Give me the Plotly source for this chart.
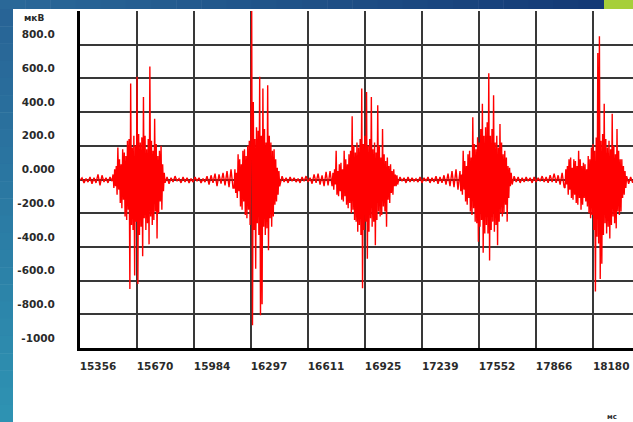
import plotly.graph_objects as go

# ---------------- data ----------------
x_tickvals = [15356, 15670, 15984, 16297, 16611, 16925, 17239, 17552, 17866, 18180]
x_ticktext = [str(v) for v in x_tickvals]
y_tickvals = [800, 600, 400, 200, 0, -200, -400, -600, -800, -1000]
y_ticktext = ["800.0", "600.0", "400.0", "200.0", "0.000",
              "-200.0", "-400.0", "-600.0", "-800.0", "-1000"]

dt_burst = 4.4   # ms between samples inside bursts
dt_base = 11.0   # ms between samples in quiet parts

base0_start = 15356
base0 = [-5, 10, -20, 5, -15, 15, -25, 10, -20, 30, -35, 25, -15, 10, -20, 15, -10]

burst1_start = 15538
burst1 = [30, -50, 60, -40, 80, -90, 190, -60, 120, -140, 90, -170, 180, -120, 160, -220,
          140, -240, 230, -180, 240, -650, 570, -270, 190, -300, 260, -570, 200, -250, 610, -620,
          270, -330, 220, -280, 250, -455, 490, -230, 260, -300, 180, -260, 240, -385, 670, -220,
          230, -270, 170, -240, 360, -190, 210, -350, 140, -200, 170, -130, 200, -180, 90, -70, 40]

base1_start = 15824
base1 = [-20, 15, -25, 10, -15, 20, -10, 5, -20, 15, -15, 10, -20, 5, -15, 15, -10, 10,
         -20, 5, -15, 20, -30, 25, -20, 35, -40, 30, -25, 40, -35, 50, -45, 60, -50]

burst2_start = 16204
burst2 = [-50, 60, -80, 40, -110, 150, -70, 120, -160, 90, -180, 170, -130, 180, -210, 140,
          -230, 200, -180, 230, -270, 280, 1000, -865, 460, -300, 240, -530, 310, -260, 290, -330,
          610, -805, 260, -740, 540, -280, 300, -330, 220, -290, 560, -420, 260, -230, 220, -280,
          170, -220, 180, -150, 120, -130, 70, -90, 50, -40]

base2_start = 16457
base2 = [-30, 20, -15, 10, -20, 15, -10, 10, -15, 5, -20, 15, -10, 20, -15, 10, -25, 30,
         -20, 35, -30, 25, -40, 45, -35, 50, -40]

burst3_start = 16748
burst3 = [40, -60, 60, -30, 170, -90, 50, -100, 90, -70, 100, -120, 60, -130, 170, -100,
          120, -150, 90, -170, 150, -140, 170, -200, 375, -180, 200, -240, 160, -250, 220, -310,
          190, -270, 240, -330, 540, -645, 210, -300, 260, -250, 520, -470, 200, -310, 240, -230,
          490, -280, 180, -250, 220, -390, 160, -240, 440, -190, 200, -220, 130, -210, 300, -160,
          150, -190, 110, -280, 130, -120, 80, -140, 90, -80, 50, -90, 60, -40, 30, -40, 25, -30]

base3_start = 17106
base3 = [-20, 15, -10, 10, -20, 15, -15, 10, -10, 5, -15, 15, -20, 10, -10, 15, -20, 10,
         -15, 20, -25, 15, -20, 25, -30, 35, -40, 50, -45, 60, -60]

burst4_start = 17447
burst4 = [50, -70, 30, -90, 170, -60, 110, -130, 80, -150, 150, -110, 170, -190, 130, -210,
          370, -170, 210, -250, 180, -260, 250, -370, 220, -280, 300, -240, 450, -435, 260, -320,
          310, -270, 340, -320, 630, -480, 260, -300, 300, -250, 500, -310, 220, -270, 260, -390,
          190, -250, 330, -200, 220, -220, 150, -200, 170, -150, 130, -250, 80, -110, 70, -40, 40]

base4_start = 17734
base4 = [-30, 20, -15, 15, -20, 10, -15, 15, -10, 10, -20, 15, -15, 10, -10, 20, -15, 15,
         -20, 25, -15, 35, -20, 25, -30, 40, -45]

burst5_start = 18025
burst5 = [-50, 60, -30, 80, -90, 120, -60, 130, -110, 70, -120, 120, -90, 110, -140, 80,
          -150, 170, -110, 120, -180, 80, -150, 100, -110, 90, -130, 60, -160, 140, -200, 120,
          -230, 190, -210, 210, -300, 170, -665, 250, -340, 750, -380, 850, -590, 230, -500, 270,
          -330, 450, -260, 240, -320, 190, -280, 230, -350, 180, -270, 390, -220, 200, -260, 150,
          -290, 300, -190, 170, -210, 120, -190, 120, -110, 80, -90, 50, -50]

base5_start = 18364
base5 = [20, -25, 15, -20, 10]

segments = [
    (base0_start, dt_base, base0),
    (burst1_start, dt_burst, burst1),
    (base1_start, dt_base, base1),
    (burst2_start, dt_burst, burst2),
    (base2_start, dt_base, base2),
    (burst3_start, dt_burst, burst3),
    (base3_start, dt_base, base3),
    (burst4_start, dt_burst, burst4),
    (base4_start, dt_base, base4),
    (burst5_start, dt_burst, burst5),
    (base5_start, dt_base, base5),
]

t_ms = []
u_uv = []
for start, dt, vals in segments:
    t_ms.extend(start + i * dt for i in range(len(vals)))
    u_uv.extend(vals)

# ---------------- figure ----------------
W, H = 633, 422
L, R, T, B = 80, 0, 11, 74

fig = go.Figure()
fig.add_trace(go.Scatter(x=t_ms, y=u_uv, mode="lines",
                         line=dict(color="#ff0000", width=1.4), hoverinfo="skip",
                         showlegend=False))

tick_font = dict(family="DejaVu Sans", size=10.5, color="#2a2a2a", weight="bold")

fig.update_layout(
    width=W, height=H,
    margin=dict(l=L, r=R, t=T, b=B, pad=0),
    paper_bgcolor="white", plot_bgcolor="white",
    xaxis=dict(range=[15356, 18399], tickvals=x_tickvals, ticktext=x_ticktext,
               showgrid=True, gridcolor="#383838", gridwidth=1.5, zeroline=False,
               showline=True, linecolor="black", linewidth=3, ticks="",
               tickfont=tick_font, ticklabelshift=18, ticklabelstandoff=6),
    yaxis=dict(range=[-1000, 1000], tickvals=y_tickvals, ticktext=y_ticktext,
               showgrid=True, gridcolor="#383838", gridwidth=1.5, zeroline=False,
               showline=True, linecolor="black", linewidth=3, ticks="",
               tickfont=tick_font, ticklabelshift=-10, ticklabelstandoff=20),
)

# slide decoration: blue gradient strips on left and top, green block top-right
pw, ph = W - L - R, H - T - B
def px2x(px): return (px - L) / pw
def px2y(py): return (H - B - py) / ph

shapes = []
n = 24
def lerp(c1, c2, f):
    return "rgb(%d,%d,%d)" % tuple(round(a + (b - a) * f) for a, b in zip(c1, c2))
left_top, left_bot = (40, 100, 150), (46, 146, 178)
for k in range(n):
    y0 = 9 + (H - 9) * k / n
    y1 = 9 + (H - 9) * (k + 1) / n + 0.5
    shapes.append(dict(type="rect", xref="paper", yref="paper", layer="below",
                       x0=px2x(0), x1=px2x(13), y0=px2y(y1), y1=px2y(y0),
                       line=dict(width=0), fillcolor=lerp(left_top, left_bot, k / (n - 1))))
top_l, top_r = (42, 104, 152), (20, 58, 118)
for k in range(n):
    x0 = 604 * k / n
    x1 = 604 * (k + 1) / n + 0.5
    shapes.append(dict(type="rect", xref="paper", yref="paper", layer="below",
                       x0=px2x(x0), x1=px2x(x1), y0=px2y(9), y1=px2y(0),
                       line=dict(width=0), fillcolor=lerp(top_l, top_r, k / (n - 1))))
shapes.append(dict(type="rect", xref="paper", yref="paper", layer="below",
                   x0=px2x(604), x1=px2x(634), y0=px2y(9), y1=px2y(0),
                   line=dict(width=0), fillcolor="#a6cf3a"))
fig.update_layout(shapes=shapes)

fig.add_annotation(text="мкВ", xref="paper", yref="paper", x=px2x(22), y=px2y(18),
                   xanchor="left", yanchor="middle", showarrow=False,
                   font=dict(family="DejaVu Sans", size=9, color="#2a2a2a", weight="bold"))
fig.add_annotation(text="мс", xref="paper", yref="paper", x=px2x(605), y=px2y(417),
                   xanchor="left", yanchor="middle", showarrow=False,
                   font=dict(family="DejaVu Sans", size=7, color="#2a2a2a", weight="bold"))

fig.write_html("out.html", config={"displayModeBar": False},
               post_script="document.body.style.margin='0px';")
